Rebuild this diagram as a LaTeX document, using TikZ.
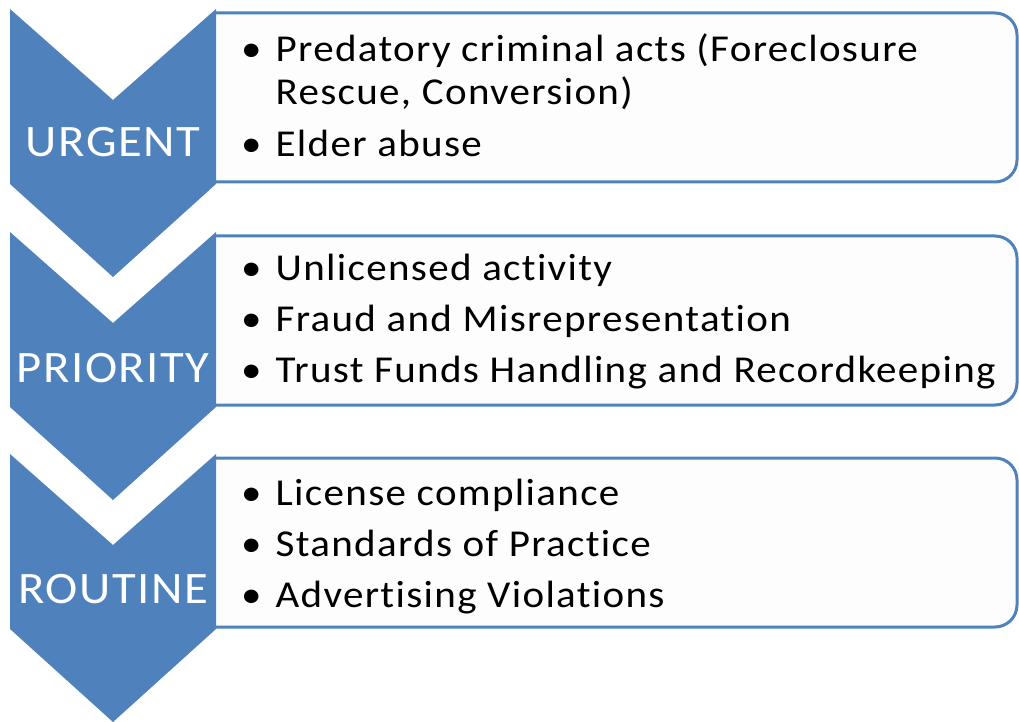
\documentclass[tikz,border=0pt]{standalone}
\usepackage{fontspec}
\setmainfont{Carlito}[Ligatures=NoCommon, FakeStretch=1.08, LetterSpace=3.5]
\usepackage{tikz}

\definecolor{chevblue}{HTML}{4F81BD}
\definecolor{boxfill}{HTML}{FDFDFD}

\tikzset{
  chevron/.style={fill=chevblue, draw=none},
  listbox/.style={draw=chevblue, line width=3pt, fill=boxfill},
  level/.style={anchor=base, text=white, font=\fontsize{45}{50}\selectfont, inner sep=0pt},
  items/.style={anchor=base west, inner sep=0pt, font=\fontsize{38}{43}\selectfont}
}

\begin{document}
\begin{tikzpicture}[x=1pt, y=1pt]
    \useasboundingbox (0, 0) rectangle (1019, 721);

    % boxes with round right corners, chevrons on top
    \foreach \t in {712, 489, 267} {
        \filldraw[listbox] (214, \t-4) -- (995, \t-4)
              arc[start angle=90, end angle=0, radius=22] -- (1017, \t-151)
              arc[start angle=0, end angle=-90, radius=22] -- (214, \t-173);
        \fill[chevron] (10, \t) -- (113, \t-91) -- (216, \t) -- (216, \t-175)
              -- (113, \t-268) -- (10, \t-175) -- cycle;
    }

    \node[level] (urgent)   at (113, 564) {URGENT};
    \node[level] (priority) at (113, 339) {PRIORITY};
    \node[level] (routine)  at (113, 118) {ROUTINE};

    \node[items] (urgentlist) at (241, 659) {%
      \begin{tabular}[t]{@{}l@{\hspace{14pt}}l@{}}
        • & Predatory criminal acts (Foreclosure \\
          & Rescue, Conversion) \\[9pt]
        • & Elder abuse
      \end{tabular}};
    \node[items] (prioritylist) at (241, 440) {%
      \begin{tabular}[t]{@{}l@{\hspace{14pt}}l@{}}
        • & Unlicensed activity \\[8pt]
        • & Fraud and Misrepresentation \\[8pt]
        • & Trust Funds Handling and Recordkeeping
      \end{tabular}};
    \node[items] (routinelist) at (241, 216) {%
      \begin{tabular}[t]{@{}l@{\hspace{14pt}}l@{}}
        • & License compliance \\[8pt]
        • & Standards of Practice \\[8pt]
        • & Advertising Violations
      \end{tabular}};
\end{tikzpicture}
\end{document}
